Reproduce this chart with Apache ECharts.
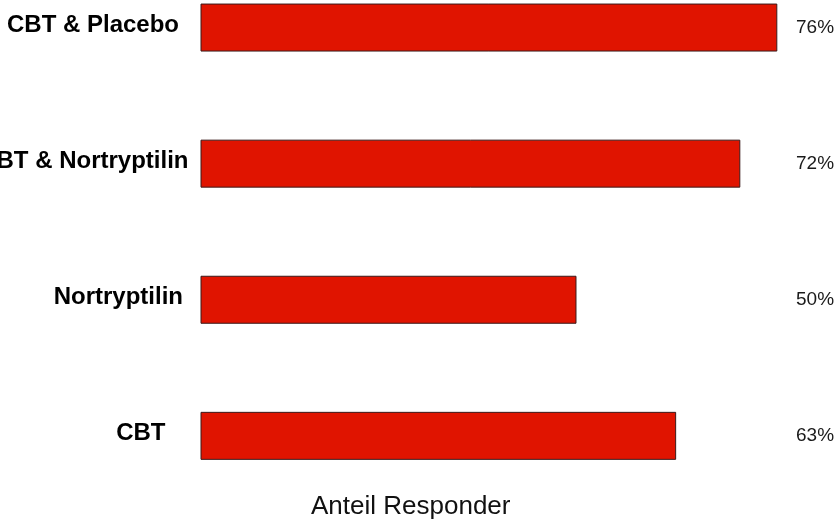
<!DOCTYPE html>
<html>
<head>
<meta charset="utf-8">
<script src="https://cdn.jsdelivr.net/npm/echarts@6/dist/echarts.min.js"></script>
<style>html,body{margin:0;padding:0;background:#fff}#c{width:835px;height:523px}</style>
</head>
<body>
<div id="c"></div>
<script>
var categories = ['CBT', 'Nortryptilin', 'CBT & Nortryptilin', 'CBT & Placebo'];
var values = [63.0, 49.8, 71.5, 76.4];
var valueLabels = ['63%', '50%', '72%', '76%'];
var axisTitle = 'Anteil Responder';

var labelKeys = ['a', 'b', 'c', 'd'];
var chart = echarts.init(document.getElementById('c'));
chart.setOption({
  animation: false,
  grid: { left: 200.5, width: 755, top: -40.5, height: 544.4, containLabel: false, outerBoundsMode: 'none' },
  xAxis: { type: 'value', min: 0, max: 100, show: false },
  yAxis: [
    {
      type: 'category', data: categories, position: 'left',
      axisLine: { show: false }, axisTick: { show: false }, splitLine: { show: false },
      axisLabel: {
        margin: 0,
        formatter: function (v, i) { return '{' + labelKeys[i] + '|' + v + '}'; },
        rich: {
          a: { fontFamily: 'Liberation Sans', fontWeight: 'bold', fontSize: 24, color: '#000', padding: [0, 35, 4, 0] },
          b: { fontFamily: 'Liberation Sans', fontWeight: 'bold', fontSize: 24, color: '#000', padding: [0, 17.5, 4, 0] },
          c: { fontFamily: 'Liberation Sans', fontWeight: 'bold', fontSize: 24, color: '#000', padding: [0, 12, 4, 0] },
          d: { fontFamily: 'Liberation Sans', fontWeight: 'bold', fontSize: 24, color: '#000', padding: [0, 21.5, 4, 0] }
        }
      }
    },
    {
      type: 'category', data: valueLabels, position: 'right', offset: -159.5,
      axisLine: { show: false }, axisTick: { show: false }, splitLine: { show: false },
      axisLabel: {
        margin: 0, align: 'left',
        fontFamily: 'Liberation Sans', fontSize: 19, color: '#1a1a1a', padding: [0, 0, 9, 0]
      }
    }
  ],
  graphic: [{
    type: 'text', left: 311, top: 494,
    style: { text: axisTitle, fontFamily: 'Liberation Sans', fontSize: 26, fill: '#111' }
  }],
  series: [{
    type: 'bar', data: values, barWidth: 48,
    itemStyle: { color: '#E01400', borderColor: '#3a1a1a', borderWidth: 1 }
  }]
});
</script>
</body>
</html>
